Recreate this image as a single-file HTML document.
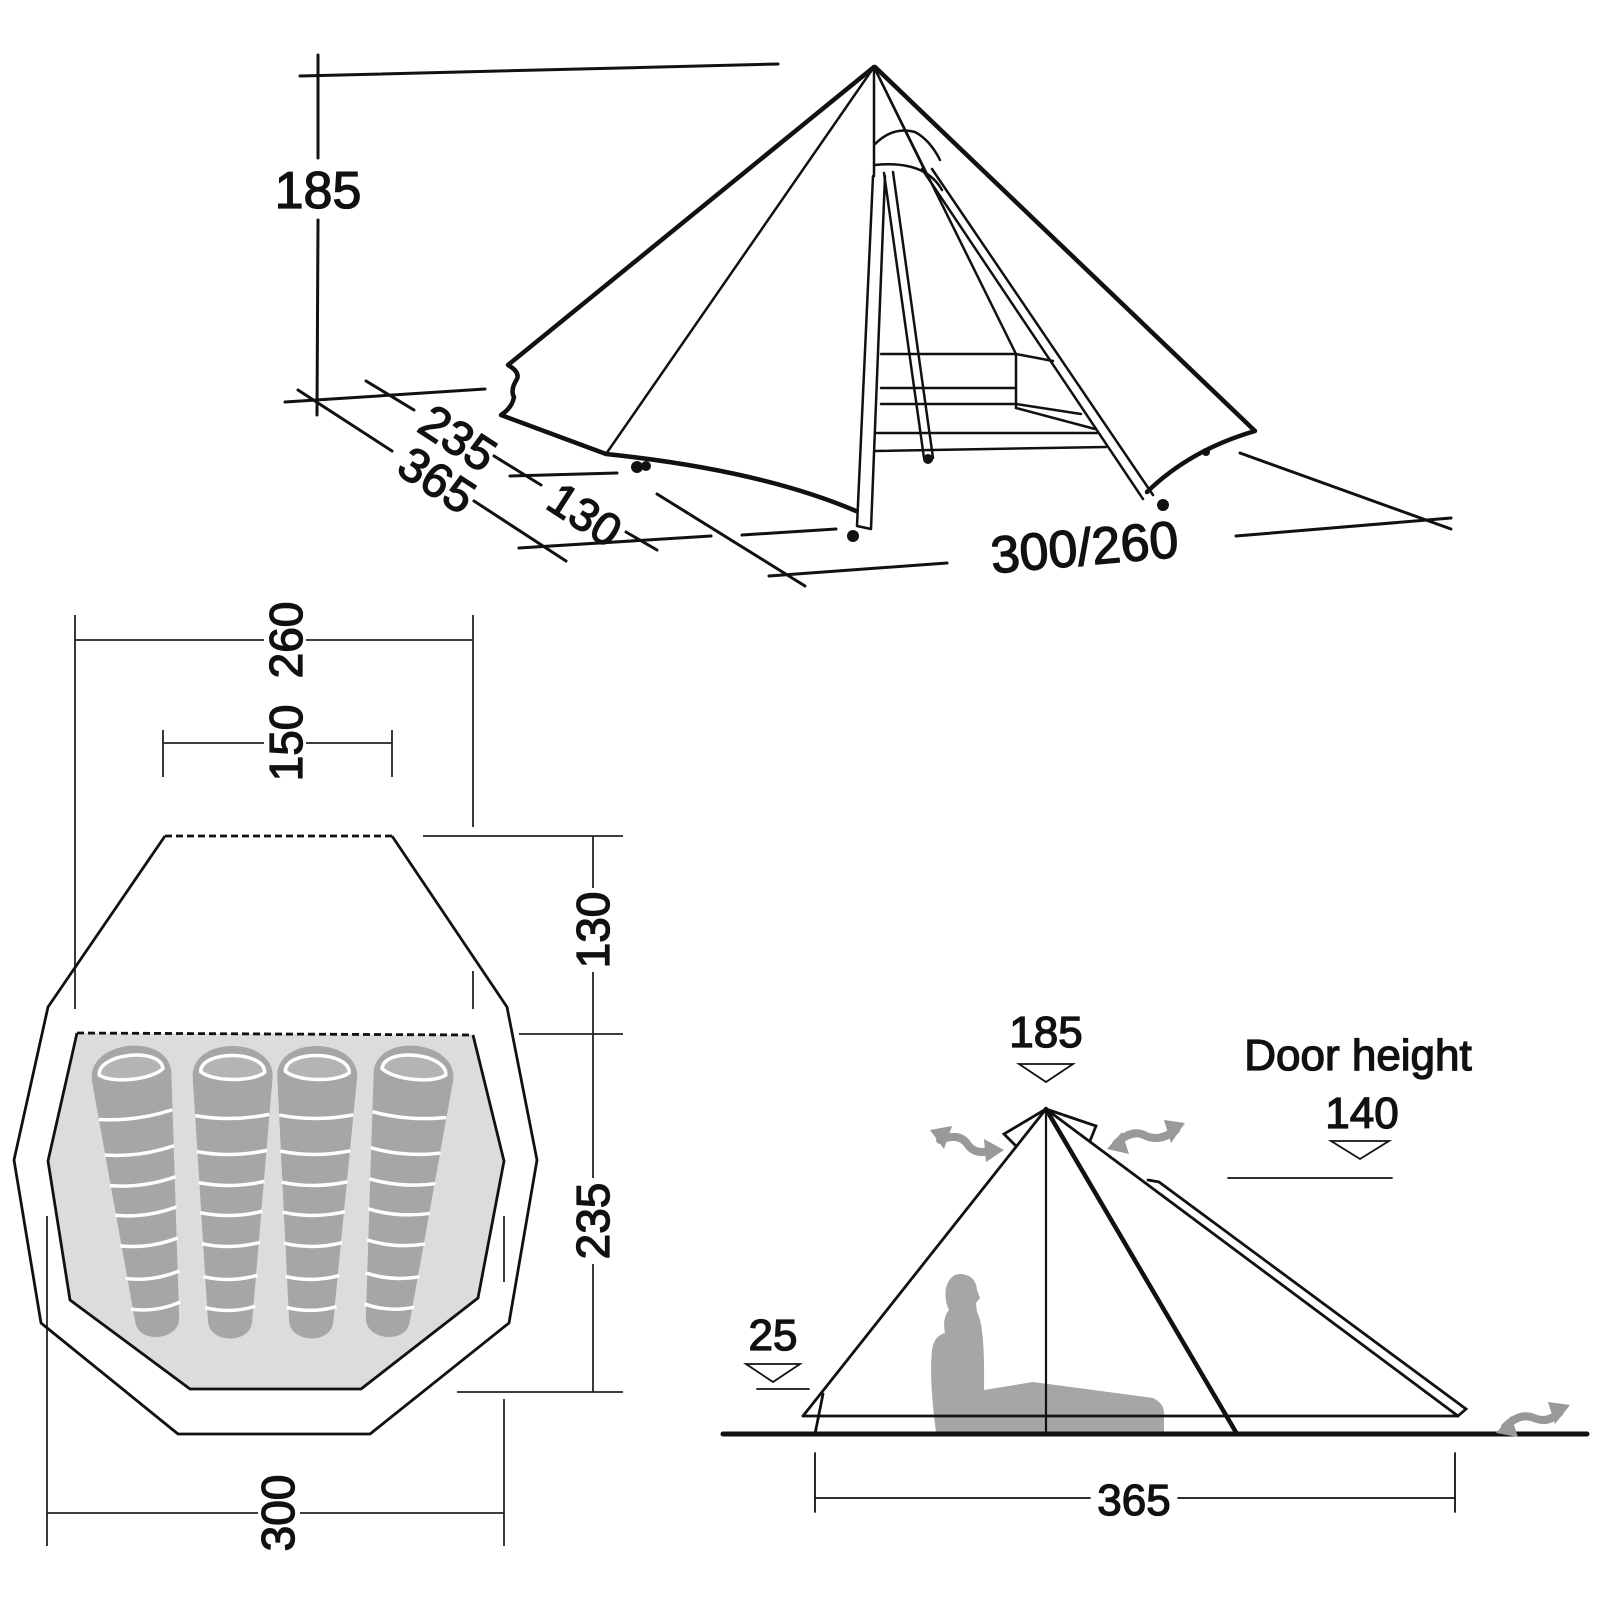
<!DOCTYPE html>
<html><head><meta charset="utf-8"><style>
html,body{margin:0;padding:0;background:#fff;width:1600px;height:1600px;overflow:hidden}
svg{display:block}
text{font-family:"Liberation Sans",sans-serif;fill:#111;stroke:#111;stroke-width:1.3}
</style></head><body>
<svg width="1600" height="1600" viewBox="0 0 1600 1600" xmlns="http://www.w3.org/2000/svg">
<defs>
<g id="bag">
<path d="M-40,34 C-40,-6 40,-6 40,34 L22,280 C20,302 -20,302 -22,280 Z" fill="#a6a6a6"/>
<path d="M-32,30 C-32,8 32,8 32,30 C20,40 -20,40 -32,30 Z" fill="#b4b4b4" stroke="#fff" stroke-width="3.5"/>
<g stroke="#fff" stroke-width="3.5" fill="none">
<path d="M-37,74 Q0,80 37,72"/><path d="M-35,110 Q0,116 35,108"/><path d="M-33,141 Q0,147 33,139"/>
<path d="M-31,171 Q0,177 31,169"/><path d="M-29,202 Q0,208 29,200"/><path d="M-27,235 Q0,241 27,233"/>
<path d="M-25,266 Q0,272 25,264"/></g>
</g>
</defs>

<!-- ===== 3D view ===== -->
<g stroke="#111" fill="none" stroke-linecap="round">
<g stroke-width="3">
<line x1="318" y1="55" x2="318" y2="158"/><line x1="318" y1="220" x2="317" y2="415"/>
<line x1="300" y1="76" x2="778" y2="64"/>
<line x1="285" y1="402" x2="485" y2="389"/>
<line x1="298" y1="390" x2="392" y2="451"/><line x1="474" y1="501" x2="566" y2="561"/>
<line x1="366" y1="381" x2="414" y2="410"/><line x1="494" y1="456" x2="541" y2="485"/>
<line x1="510" y1="476" x2="617" y2="473"/>
<line x1="519" y1="548" x2="711" y2="536"/><line x1="742" y1="535" x2="836" y2="529"/>
<line x1="626" y1="532" x2="657" y2="550"/>
<line x1="657" y1="494" x2="805" y2="586"/>
<line x1="769" y1="576" x2="947" y2="563"/>
<line x1="1236" y1="536" x2="1451" y2="518"/>
<line x1="1240" y1="453" x2="1451" y2="529"/>
</g>
<g stroke-width="4.5" stroke-linejoin="round">
<path d="M874,67 L508,365 Q520,372 517,379 Q510,390 514,397 Q512,408 501,415 L606,454 Q760,470 856,511"/>
<path d="M875,67 L1255,431 Q1190,450 1147,492"/>
</g>
<g stroke-width="2.5">
<line x1="874" y1="67" x2="606" y2="454"/>
<line x1="874" y1="67" x2="874" y2="176"/>
<line x1="874" y1="67" x2="924" y2="169"/>
<line x1="874" y1="67" x2="1016" y2="354"/>
<path d="M875,144 Q893,126 915,132 Q930,140 940,160"/>
<path d="M875,165 Q925,160 942,190"/>
<path d="M873,176 L857,526 M885,176 L871,529 M857,526 L871,529"/>
<path d="M884,173 L924,458 M893,172 L933,458"/>
<path d="M922,169 L1143,499 M932,169 L1153,495"/>
<path d="M881,354 L1016,354 L1053,361"/>
<path d="M881,388 L1016,388"/>
<path d="M881,404 L1016,404 L1081,414"/>
<path d="M1016,354 L1016,408 L1095,429"/>
<path d="M875,433 L1098,433"/>
<path d="M875,451 L1106,447"/>
</g>
<g fill="#111" stroke="none">
<circle cx="853" cy="536" r="6"/><circle cx="1163" cy="505" r="6"/>
<circle cx="637" cy="467" r="6"/><circle cx="646" cy="466" r="5"/><circle cx="1206" cy="452" r="4"/>
<circle cx="928" cy="459" r="5"/>
</g>
</g>
<text x="318" y="208" font-size="52" text-anchor="middle">185</text>
<text transform="translate(449,452) rotate(33)" font-size="48" text-anchor="middle">235</text>
<text transform="translate(428,494) rotate(33)" font-size="48" text-anchor="middle">365</text>
<text transform="translate(576,528) rotate(33)" font-size="46" text-anchor="middle">130</text>
<text transform="translate(1086,565) rotate(-5)" font-size="52" text-anchor="middle">300/260</text>

<!-- ===== Floor plan ===== -->
<g stroke="#222" fill="none" stroke-width="1.8">
<line x1="75" y1="615" x2="75" y2="1009"/>
<line x1="473" y1="615" x2="473" y2="827"/><line x1="473" y1="971" x2="473" y2="1009"/>
<line x1="47" y1="1216" x2="47" y2="1546"/>
<line x1="504" y1="1216" x2="504" y2="1282"/><line x1="504" y1="1399" x2="504" y2="1546"/>
<line x1="47" y1="1513" x2="258" y2="1513"/><line x1="300" y1="1513" x2="504" y2="1513"/>
<line x1="75" y1="640" x2="264" y2="640"/><line x1="306" y1="640" x2="472" y2="640"/>
<line x1="163" y1="743" x2="264" y2="743"/><line x1="306" y1="743" x2="392" y2="743"/>
<line x1="163" y1="730" x2="163" y2="777"/><line x1="392" y1="730" x2="392" y2="777"/>
<line x1="593" y1="836" x2="593" y2="888"/><line x1="593" y1="972" x2="593" y2="1178"/><line x1="593" y1="1264" x2="593" y2="1392"/>
<line x1="423" y1="836" x2="623" y2="836"/>
<line x1="519" y1="1034" x2="623" y2="1034"/>
<line x1="457" y1="1392" x2="623" y2="1392"/>
</g>
<path d="M77,1033 L473,1035 L504,1161 L478,1298 L361,1389 L190,1389 L70,1300 L48,1161 Z" fill="#dcdcdc" stroke="none"/>
<g stroke="#111" fill="none" stroke-width="2.8" stroke-linejoin="round">
<path d="M77,1033 L48,1161 L70,1300 L190,1389 L361,1389 L478,1298 L504,1161 L473,1035"/>
<line x1="77" y1="1033" x2="473" y2="1035" stroke-dasharray="7,4"/>
<path d="M165,836 L48,1007 L14,1160 L41,1323 L178,1434 L370,1434 L509,1323 L537,1160 L507,1007 L392,836"/>
<line x1="165" y1="836" x2="392" y2="836" stroke-dasharray="7,4"/>
</g>
<use href="#bag" transform="translate(128,1042) rotate(-6)"/>
<use href="#bag" transform="translate(233,1042) rotate(0.6)"/>
<use href="#bag" transform="translate(318,1042) rotate(1.4)"/>
<use href="#bag" transform="translate(417,1042) rotate(6)"/>
<g font-size="46">
<text transform="translate(302,640) rotate(-90)" text-anchor="middle">260</text>
<text transform="translate(302,743) rotate(-90)" text-anchor="middle">150</text>
<text transform="translate(609,930) rotate(-90)" text-anchor="middle">130</text>
<text transform="translate(609,1221) rotate(-90)" text-anchor="middle">235</text>
<text transform="translate(294,1513) rotate(-90)" text-anchor="middle">300</text>
</g>

<!-- ===== Side view ===== -->
<path d="M945,1333 Q942,1318 949,1310 Q944,1300 946,1288 Q950,1273 962,1274 Q976,1276 977,1290 L980,1298 L976,1303 L977,1312 Q985,1325 984,1390 L1033,1382 L1153,1398 Q1165,1404 1164,1415 L1164,1432 L936,1432 Q929,1380 932,1350 Q934,1336 945,1333 Z" fill="#a6a6a6"/>
<g stroke="#111" fill="none" stroke-linecap="round" stroke-width="2.8">
<line x1="723" y1="1434" x2="1587" y2="1434" stroke-width="5"/>
<line x1="1046" y1="1109" x2="803" y2="1416"/>
<line x1="803" y1="1416" x2="1458" y2="1416"/>
<line x1="1046" y1="1109" x2="1458" y2="1416"/>
<path d="M1148,1180 L1159,1182 L1466,1409 L1458,1416"/>
<line x1="1046" y1="1109" x2="1046" y2="1434" stroke-width="2.2"/>
<line x1="1046" y1="1109" x2="1237" y2="1434" stroke-width="4.5"/>
<line x1="823" y1="1394" x2="815" y2="1434"/>
<path d="M1046,1109 L1004,1134 L1016,1146"/>
<path d="M1046,1109 L1096,1126 L1090,1141"/>
<g stroke-width="1.8">
<line x1="815" y1="1453" x2="815" y2="1512"/><line x1="1455" y1="1453" x2="1455" y2="1512"/>
<line x1="815" y1="1498" x2="1090" y2="1498"/><line x1="1178" y1="1498" x2="1455" y2="1498"/>
<line x1="1228" y1="1178" x2="1392" y2="1178"/>
<line x1="757" y1="1389" x2="809" y2="1389"/>
<path d="M1019,1064 L1073,1064 L1046,1082 Z"/>
<path d="M1331,1141 L1389,1141 L1360,1159 Z"/>
<path d="M746,1364 L800,1364 L773,1382 Z"/>
</g>
</g>
<g stroke="#999" stroke-width="8" fill="none" stroke-linecap="round">
<path d="M940,1140 Q960,1132 968,1145 Q976,1156 995,1150"/>
<path d="M1116,1144 Q1132,1128 1146,1136 Q1160,1142 1176,1130"/>
<path d="M1505,1427 Q1520,1412 1534,1418 Q1548,1424 1560,1412"/>
</g>
<g fill="#999">
<path d="M930,1130 L952,1126 L944,1149 Z"/><path d="M1004,1150 L984,1139 L986,1162 Z"/>
<path d="M1107,1149 L1122,1132 L1129,1154 Z"/><path d="M1185,1123 L1164,1120 L1171,1143 Z"/>
<path d="M1496,1433 L1511,1416 L1518,1437 Z"/><path d="M1570,1405 L1548,1402 L1555,1424 Z"/>
</g>
<g font-size="44">
<text x="1046" y="1047" text-anchor="middle">185</text>
<text x="1358" y="1070" text-anchor="middle">Door height</text>
<text x="1362" y="1128" text-anchor="middle">140</text>
<text x="773" y="1350" text-anchor="middle">25</text>
<text x="1134" y="1515" text-anchor="middle">365</text>
</g>
</svg>
</body></html>
